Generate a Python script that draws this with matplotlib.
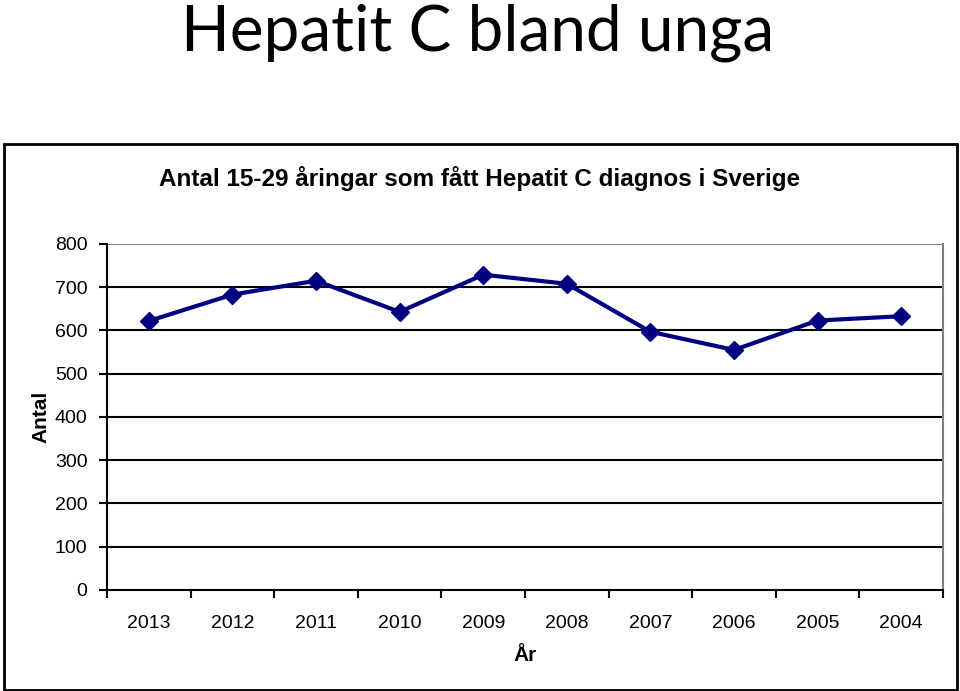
import matplotlib.pyplot as plt
from matplotlib.patches import Rectangle

years = ['2013', '2012', '2011', '2010', '2009', '2008', '2007', '2006', '2005', '2004']
antal = [622, 683, 715, 643, 729, 708, 597, 555, 623, 633]
yticks = [0, 100, 200, 300, 400, 500, 600, 700, 800]

plt.rcParams['font.family'] = ['Liberation Sans', 'DejaVu Sans']

fig = plt.figure(figsize=(9.6, 6.91), dpi=100)

# slide title
fig.text(0.497, 0.953, 'Hepatit C bland unga', ha='center', va='center',
         fontsize=46, family='Lato')

# frame around the chart
fig.patches.append(Rectangle((0.004, 0.002), 0.993, 0.79, transform=fig.transFigure,
                             fill=False, edgecolor='black', linewidth=2))

# chart title, centred on the frame rather than the axes
fig.text(0.5, 0.742, 'Antal 15-29 åringar som fått Hepatit C diagnos i Sverige',
         ha='center', va='center', fontsize=17.5, fontweight='bold')

ax = fig.add_axes([0.1115, 0.1462, 0.8708, 0.5007])
x = range(len(years))
ax.plot(x, antal, color='#000080', linewidth=3, marker='D', markersize=9)

ax.set_xlim(-0.5, len(years) - 0.5)
ax.set_ylim(0, 800)
ax.set_yticks(yticks)
ax.set_xticks(x)
ax.set_xticklabels(years, fontsize=14)
ax.set_xticks([i - 0.5 for i in range(len(years) + 1)], minor=True)
ax.tick_params(axis='x', which='major', length=0, pad=18)
ax.tick_params(axis='x', which='minor', length=6, width=1.5, direction='out')
ax.tick_params(axis='y', length=6, width=1.5, direction='out', labelsize=14, pad=8)

for v in yticks[1:-1]:
    ax.axhline(v, color='black', linewidth=1.5, zorder=0)
ax.axhline(800, color='#808080', linewidth=1.5, zorder=0)

ax.spines['left'].set_linewidth(1.5)
ax.spines['bottom'].set_linewidth(1.5)
ax.spines['right'].set_color('#808080')
ax.spines['right'].set_linewidth(1.5)
ax.spines['top'].set_visible(False)

ax.set_xlabel('År', fontsize=15, fontweight='bold', labelpad=10)
ax.set_ylabel('Antal', fontsize=15, fontweight='bold', labelpad=3)

fig.savefig('out.png', dpi=100)
